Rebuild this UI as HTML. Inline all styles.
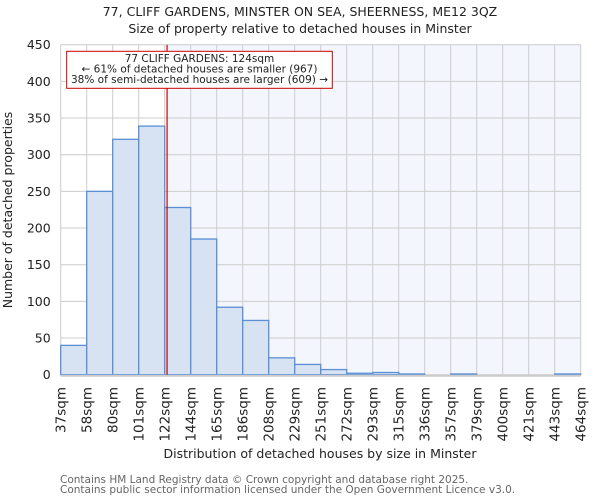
<!DOCTYPE html>
<html><head><meta charset="utf-8"><style>
body{margin:0;background:#fff;}
svg{display:block;font-family:"DejaVu Sans","Liberation Sans",sans-serif;}
</style></head><body>
<svg id="chart" width="600" height="500" viewBox="0 0 600 500" xmlns="http://www.w3.org/2000/svg">
<rect width="600" height="500" fill="#fff"/>
<text x="300" y="16" text-anchor="middle" font-size="12.5" fill="#222">77, CLIFF GARDENS, MINSTER ON SEA, SHEERNESS, ME12 3QZ</text>
<text x="300" y="33" text-anchor="middle" font-size="12.5" fill="#222">Size of property relative to detached houses in Minster</text>
<g id="plot"></g>
<text transform="translate(12,210) rotate(-90)" text-anchor="middle" font-size="12.5" fill="#222">Number of detached properties</text>
<text x="320" y="458" text-anchor="middle" font-size="12.5" fill="#222">Distribution of detached houses by size in Minster</text>
<text x="60" y="483" font-size="10.5" fill="#666">Contains HM Land Registry data © Crown copyright and database right 2025.</text>
<text x="60" y="493" font-size="10.5" fill="#666">Contains public sector information licensed under the Open Government Licence v3.0.</text>
</svg>
<script>
const binLabels=["37sqm","58sqm","80sqm","101sqm","122sqm","144sqm","165sqm","186sqm","208sqm","229sqm","251sqm","272sqm","293sqm","315sqm","336sqm","357sqm","379sqm","400sqm","421sqm","443sqm","464sqm"];
const binEdges=[37,58,80,101,122,144,165,186,208,229,251,272,293,315,336,357,379,400,421,443,464];
const counts=[40,250,321,339,228,185,92,74,23,14,7,2,3,1,0,1,0,0,0,1];
const yTicks=[0,50,100,150,200,250,300,350,400,450];
const propertySize=124;
const annotationLines=["77 CLIFF GARDENS: 124sqm","← 61% of detached houses are smaller (967)","38% of semi-detached houses are larger (609) →"];

const NS="http://www.w3.org/2000/svg";
const X0=60.7,X1=580.7,Y0=374.7,Y1=44.7,YMAX=450;
const nb=counts.length;
function xIdx(i){return X0+(X1-X0)*i/nb;}
function xVal(v){let i=0;while(i<binEdges.length-2&&v>binEdges[i+1])i++;return xIdx(i+(v-binEdges[i])/(binEdges[i+1]-binEdges[i]));}
function y(v){return Y0-(Y0-Y1)*v/YMAX;}
const g=document.getElementById('plot');
function mk(t,a){const e=document.createElementNS(NS,t);for(const k in a)e.setAttribute(k,a[k]);g.appendChild(e);return e;}
const px=xVal(propertySize);
let e=mk('rect',{x:px,y:Y1,width:X1-px,height:Y0-Y1,fill:'#f3f6fd'});


yTicks.forEach(t=>{
 let l=mk('line',{x1:X0,x2:X1,y1:y(t),y2:y(t),stroke:'#cccccc','stroke-width':1});
 
 
 let tx=mk('text',{x:X0-10,y:y(t)+4.5,'text-anchor':'end','font-size':12.5,fill:'#222'});
 tx.textContent=t;
 
 
});
for(let i=0;i<=nb;i++){
 let l=mk('line',{x1:xIdx(i),x2:xIdx(i),y1:Y1,y2:Y0,stroke:'#cccccc','stroke-width':1});
 
 
}
counts.forEach((c,i)=>{
 if(c<=0)return;
 let r=mk('rect',{x:xIdx(i),y:y(c),width:xIdx(i+1)-xIdx(i),height:Y0-y(c),fill:'#d7e2f3',stroke:'#5a8fd6','stroke-width':1.3});
 
 
});
e=mk('line',{x1:X0,x2:X1,y1:Y0+1,y2:Y0+1,stroke:'#cccccc','stroke-width':2});


binLabels.forEach((s,i)=>{
 const xx=xIdx(i);
 let t=mk('text',{transform:`translate(${xx+5},${387}) rotate(-90)`,'text-anchor':'end','font-size':13.5,fill:'#222'});
 t.textContent=s;
 
 
});
e=mk('line',{x1:px,x2:px,y1:Y1,y2:Y0,stroke:'#cc0000','stroke-width':1.2});


e=mk('rect',{x:66.7,y:51.3,width:265.6,height:37,fill:'#fff',stroke:'#cc0000','stroke-width':1});


annotationLines.forEach((s,i)=>{
 let t=mk('text',{x:199.5,y:62+i*10.5,'text-anchor':'middle','font-size':10.5,fill:'#222'});
 t.textContent=s;
 
 
});
</script>
</body></html>
